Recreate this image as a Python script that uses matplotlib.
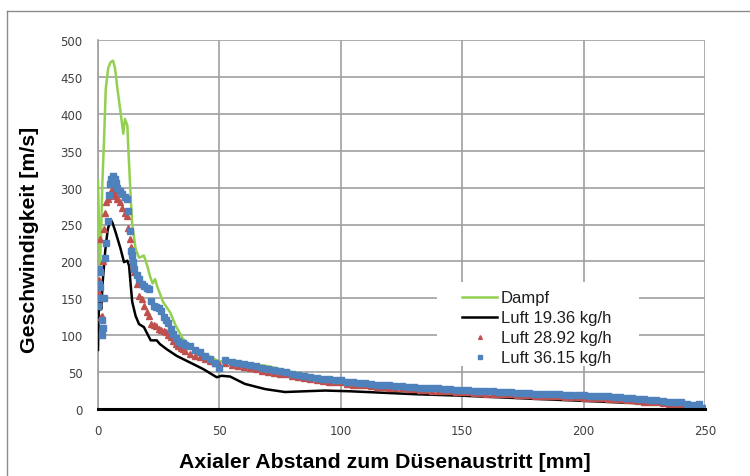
import matplotlib.pyplot as plt
from matplotlib.patches import Rectangle
from matplotlib.lines import Line2D

# Dampf (steam jet)
x_dampf = [0, 0.4, 0.8, 1.3, 1.8, 2.5, 3.2, 4.2, 5.2, 6.2, 7.0, 8.0, 9.3, 10.4, 11.1,
           12.1, 12.5, 13.5, 14.1, 15.5, 16.9, 18.9, 20.3, 21.4, 22.5, 23.5, 24.5, 26.8,
           29.7, 32, 35, 38, 42, 45, 49.5, 52, 55, 60, 65, 70, 75, 80, 90, 100, 110, 120,
           130, 140, 150, 160, 170, 180, 190, 200, 210, 220, 230, 240, 245, 250]
v_dampf = [310, 250, 195, 240, 307, 366, 434, 462, 470, 472, 462, 434, 402, 373, 393,
           384, 352, 285, 250, 217, 205, 208, 194, 180, 170, 176, 165, 145,
           131, 113, 95, 85, 77, 73, 65, 64, 63, 62, 60, 58, 54, 50, 44, 40, 36, 33,
           31, 28, 27, 25, 24, 22, 20, 18, 16, 14, 12, 9, 7, 3]

# Luft 19.36 kg/h
x_luft1 = [0, 0.3, 0.8, 1.3, 2, 3, 4, 5.2, 6, 7.3, 8.3, 9.3, 10.7, 12.1, 12.8, 13.5,
           14.1, 15.5, 16.9, 18.9, 20.3, 21.7, 24.2, 25.5, 28.3, 32.4, 37.9, 43.4, 48.9,
           50.9, 54.4, 60.5, 68.8, 77, 85, 93.5, 104, 131, 150, 178, 200, 228, 240, 250]
v_luft1 = [80, 130, 150, 135, 175, 215, 243, 257, 252, 239, 228, 217, 199, 201, 194, 167,
           145, 126, 115, 111, 102, 93, 93, 88, 81, 72, 63, 54, 43,
           45, 44, 34, 27, 23, 24, 25, 24, 20, 18, 14, 11, 7, 5, 2]

# probe positions for the two scatter series
x_probe = [0, 0.25, 0.5, 0.75, 1.0, 1.25, 1.5, 1.75, 2.0, 2.5, 3.0, 3.5, 4.0, 4.5, 5.0,
           5.5, 6.0, 6.5, 7.0, 7.5, 8.0, 9.0, 10, 11, 12, 12.5, 13, 13.5, 14, 14.5, 15,
           16, 17, 18, 19, 20, 21, 22, 23, 24, 25, 26, 27, 28, 29, 30, 31, 32, 33, 34,
           35, 36, 38, 40, 42, 44, 46, 48, 50,
           52.5, 55, 57.5, 60, 62.5, 65, 67.5, 70, 72.5, 75, 77.5, 80, 82.5, 85, 87.5,
           90, 92.5, 95, 97.5, 100, 102.5, 105, 107.5, 110, 112.5, 115, 117.5, 120,
           122.5, 125, 127.5, 130, 132.5, 135, 137.5, 140, 142.5, 145, 147.5, 150,
           152.5, 155, 157.5, 160, 162.5, 165, 167.5, 170, 172.5, 175, 177.5, 180,
           182.5, 185, 187.5, 190, 192.5, 195, 197.5, 200, 202.5, 205, 207.5, 210,
           212.5, 215, 217.5, 220, 222.5, 225, 227.5, 230, 232.5, 235, 237.5, 240,
           242.5, 245, 247.5, 250]

# Luft 28.92 kg/h
v_luft2 = [160, 175, 150, 190, 230, 125, 110, 126, 200, 244, 266, 280, 285, 289, 292,
           296, 298, 295, 292, 289, 285, 280, 272, 266, 262, 245, 230, 219, 205, 195, 186,
           170, 153, 149, 140, 131, 126, 115, 114, 113, 108, 107, 106, 104, 100, 97, 92,
           88, 85, 83, 81, 79, 75, 72, 70, 68, 65, 63, 61,
           62, 60, 58, 57, 56, 54, 52, 50, 49, 48, 47, 45, 43, 42, 40,
           39, 38, 37, 36, 36, 34, 33, 32, 32, 31, 30, 30, 29,
           28, 28, 27, 27, 26, 26, 25, 25, 24, 24, 23, 23,
           22.5, 22, 22, 21, 21, 20, 20, 20, 19, 19, 19, 18,
           18, 17.5, 17, 17, 16.5, 16, 16, 15.5, 15, 15, 14.5, 14,
           13.5, 13, 12.5, 12, 11, 10, 9.5, 9, 8, 7, 6.5, 6,
           5, 4, 3, 2]

# Luft 36.15 kg/h
v_luft3 = [140, 170, 190, 165, 185, 150, 120, 100, 110, 150, 205, 225, 255, 290, 305,
           312, 316, 312, 311, 306, 300, 296, 291, 287, 284, 268, 241, 214, 208, 199, 190,
           182, 176, 170, 167, 164, 162, 146, 140, 138, 137, 133, 125, 120, 117, 108, 102,
           96, 92, 90, 89, 87, 85, 80, 77, 72, 68, 63, 55,
           66, 64, 62, 61, 59, 58, 55, 54, 53, 51, 50, 48, 46, 45, 43,
           42, 41, 40, 39, 39, 37, 36, 35, 35, 34, 33, 33, 32,
           31, 31, 30, 30, 29, 29, 28, 28, 27, 27, 26, 26,
           25.5, 25, 25, 24, 24, 23, 23, 23, 22, 22, 22, 21,
           21, 20.5, 20, 20, 19.5, 19, 19, 18.5, 18, 18, 17.5, 17,
           16.5, 16, 15.5, 15, 14, 13, 12.5, 12, 11, 10, 9.5, 9,
           7, 5, 7, 1]

labels = ["Dampf", "Luft 19.36 kg/h", "Luft 28.92 kg/h", "Luft 36.15 kg/h"]
x_ticks = [0, 50, 100, 150, 200, 250]
y_ticks = [0, 50, 100, 150, 200, 250, 300, 350, 400, 450, 500]

green = "#92D050"
red = "#C0504D"
blue = "#4F81BD"
grid_gray = "#A0A0A0"

fig = plt.figure(figsize=(7.5, 4.77), dpi=100)
ax = fig.add_axes([98 / 750, 67 / 477, 607 / 750, 369 / 477])

# outer chart border (only top and left are inside the image)
fig.add_artist(Line2D([6.5 / 750, 1.0], [1 - 11.5 / 477] * 2, color="#8C8C8C", lw=1.0))
fig.add_artist(Line2D([6.5 / 750] * 2, [0, 1 - 11.5 / 477], color="#8C8C8C", lw=1.0))

ax.plot(x_dampf, v_dampf, color=green, lw=1.8, label=labels[0], zorder=3)
ax.plot(x_luft1, v_luft1, color="black", lw=1.8, label=labels[1], zorder=4)
ax.plot(x_probe, v_luft2, ls="none", marker="^", ms=4.5, color=red, mec=red,
        label=labels[2], zorder=5)
ax.plot(x_probe, v_luft3, ls="none", marker="s", ms=4.2, color=blue, mec=blue,
        label=labels[3], zorder=6)

ax.set_xlim(0, 250)
ax.set_ylim(0, 500)
ax.set_xticks(x_ticks)
ax.set_yticks(y_ticks)
ax.set_axisbelow(True)
ax.grid(True, color=grid_gray, lw=1.2)
ax.tick_params(length=0, labelsize=8.5, labelcolor="#404040")
ax.tick_params(axis="x", pad=11)
ax.tick_params(axis="y", pad=11)

for side in ["top", "right"]:
    ax.spines[side].set_visible(False)
ax.spines["left"].set_color(grid_gray)
ax.spines["left"].set_linewidth(1.2)
ax.spines["bottom"].set_color("black")
ax.spines["bottom"].set_linewidth(2.2)
ax.spines["bottom"].set_zorder(7)

ax.set_xlabel("Axialer Abstand zum Düsenaustritt [mm]", fontsize=15.3,
              fontweight="bold", family="Liberation Sans")
ax.set_ylabel("Geschwindigkeit [m/s]", fontsize=15.3, fontweight="bold",
              family="Liberation Sans")
ax.xaxis.set_label_coords((385 - 98) / 607, (410 - 463) / 369)
ax.yaxis.set_label_coords((30 - 98) / 607, (410 - 240) / 369)
ax.xaxis.label.set_va("center")
ax.yaxis.label.set_va("center")

# white legend area hiding the grid behind it
ax.add_patch(Rectangle(((437 - 98) / 607, (410 - 367) / 369), 202 / 607, 84 / 369,
                       transform=ax.transAxes, facecolor="white", edgecolor="none",
                       zorder=2))
leg = ax.legend(loc="upper left", bbox_to_anchor=((454 - 98) / 607, (410 - 283) / 369),
                frameon=False, borderpad=0, handlelength=2.1, handletextpad=0.2,
                labelspacing=0.3, markerscale=0.6,
                prop={"family": "Liberation Sans", "size": 12})
for t in leg.get_texts():
    t.set_color("#1F1F1F")

fig.savefig("out.png", dpi=100)
